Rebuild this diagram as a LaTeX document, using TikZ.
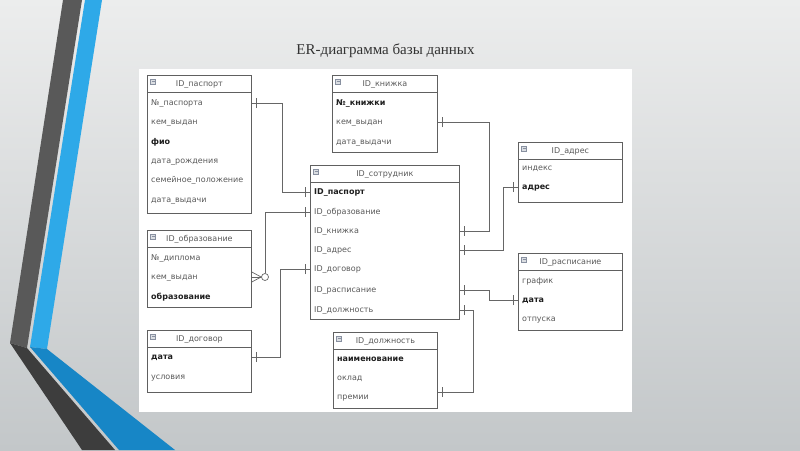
\documentclass[tikz,border=0pt]{standalone}
\usepackage{fontspec}
\setmainfont{Liberation Serif}
\newfontfamily\erfont{DejaVu Sans}
\usetikzlibrary{positioning, decorations.markings}

\definecolor{bgtop}{HTML}{ECEDED}
\definecolor{bgbot}{HTML}{C3C7C9}
\definecolor{stripegrey}{HTML}{595959}
\definecolor{stripedark}{HTML}{3D3D3D}
\definecolor{stripeblue}{HTML}{2EA9E8}
\definecolor{stripedeep}{HTML}{1786C6}
\definecolor{boxgrey}{HTML}{606060}
\definecolor{txtgrey}{HTML}{5A5A5A}
\definecolor{keyblack}{HTML}{1E1E1E}
\definecolor{linegrey}{HTML}{666666}
\definecolor{icongrey}{HTML}{8890A0}

\tikzset{
  ent/.style={rectangle, draw=boxgrey, line width=0.8pt, anchor=north west, inner sep=0pt},
  hdr/.style={font=\erfont\fontsize{8}{9.6}\selectfont, text=txtgrey, inner sep=0pt,
    text height=5.8pt, text depth=1.6pt},
  fld/.style={font=\erfont\fontsize{8}{9.6}\selectfont, text=txtgrey, anchor=west, inner sep=0pt,
    text height=5.8pt, text depth=1.6pt},
  keyfld/.style={fld, font=\erfont\fontsize{8}{9.6}\selectfont\bfseries, text=keyblack},
  icon/.style={rectangle, draw=icongrey, fill=icongrey!30, line width=0.4pt,
    minimum size=5pt, inner sep=0pt,
    path picture={\draw[icongrey, line width=0.5pt]
      ([xshift=1pt]path picture bounding box.west) -- ([xshift=-1pt]path picture bounding box.east);}},
  rel/.style={draw=linegrey, line width=0.7pt},
  onestart/.style={postaction={decorate, decoration={markings,
    mark=at position 4.5pt with {\draw[rel] (0pt,-5pt) -- (0pt,5pt);}}}},
  oneend/.style={postaction={decorate, decoration={markings,
    mark=at position -4.5pt with {\draw[rel] (0pt,-5pt) -- (0pt,5pt);}}}},
  zeroring/.style={circle, draw=linegrey, fill=white, line width=0.7pt, minimum size=7pt, inner sep=0pt}
}

\begin{document}
\begin{tikzpicture}[x=1pt, y=-1pt]
  \useasboundingbox (0,0) rectangle (800,450);

  % slide background and stripes
  \shade[top color=bgtop, bottom color=bgbot] (0,0) rectangle (800,450);
  \fill[stripegrey] (63,0) -- (82,0) -- (27,348) -- (10,343) -- cycle;
  \fill[stripeblue] (85,0) -- (102,0) -- (47,349) -- (30,347) -- cycle;
  \fill[stripedark] (10,343) -- (27,348) -- (115,450) -- (82,450) -- cycle;
  \fill[stripedeep] (30,347) -- (47,349) -- (175,450) -- (119,450) -- cycle;

  \node[font=\fontsize{15}{18}\selectfont, text=black!80, anchor=base] (title) at (385.5,54) {ER-диаграмма базы данных};

  \fill[white] (139,69) rectangle (632,412);

  % entities
  \node[ent, minimum width=104pt, minimum height=138pt] (pas) at (147,75) {};
  \node[ent, minimum width=104pt, minimum height=77pt] (obr) at (147,230) {};
  \node[ent, minimum width=104pt, minimum height=62pt] (dog) at (147,330) {};
  \node[ent, minimum width=105pt, minimum height=77pt] (kni) at (332,75) {};
  \node[ent, minimum width=149pt, minimum height=154pt] (sot) at (310,165) {};
  \node[ent, minimum width=104pt, minimum height=60pt] (adr) at (518,142) {};
  \node[ent, minimum width=104pt, minimum height=77pt] (ras) at (518,253) {};
  \node[ent, minimum width=104pt, minimum height=76pt] (dol) at (333,332) {};

  \foreach \e in {pas,obr,dog,kni,sot,adr,ras,dol}{
    \draw[boxgrey, line width=0.8pt] ([yshift=-17.5pt]\e.north west) -- ([yshift=-17.5pt]\e.north east);
    \node[icon] (\e-ico) at ([xshift=6pt, yshift=-6.5pt]\e.north west) {};
  }

  \node[hdr] (pas-t) at ([yshift=-9pt]pas.north) {ID\_паспорт};
  \node[hdr] (obr-t) at ([yshift=-9pt]obr.north) {ID\_образование};
  \node[hdr] (dog-t) at ([yshift=-9pt]dog.north) {ID\_договор};
  \node[hdr] (kni-t) at ([yshift=-9pt]kni.north) {ID\_книжка};
  \node[hdr] (sot-t) at ([yshift=-9pt]sot.north) {ID\_сотрудник};
  \node[hdr] (adr-t) at ([yshift=-9pt]adr.north) {ID\_адрес};
  \node[hdr] (ras-t) at ([yshift=-9pt]ras.north) {ID\_расписание};
  \node[hdr] (dol-t) at ([yshift=-9pt]dol.north) {ID\_должность};

  % fields
  \node[fld] (pas1) at (151,103) {№\_паспорта};
  \node[fld] (pas2) at (151,122) {кем\_выдан};
  \node[keyfld] (pas3) at (151,142) {фио};
  \node[fld] (pas4) at (151,161) {дата\_рождения};
  \node[fld] (pas5) at (151,180) {семейное\_положение};
  \node[fld] (pas6) at (151,200) {дата\_выдачи};

  \node[fld] (obr1) at (151,258) {№\_диплома};
  \node[fld] (obr2) at (151,277) {кем\_выдан};
  \node[keyfld] (obr3) at (151,297) {образование};

  \node[keyfld] (dog1) at (151,357) {дата};
  \node[fld] (dog2) at (151,377) {условия};

  \node[keyfld] (kni1) at (336,103) {№\_книжки};
  \node[fld] (kni2) at (336,122) {кем\_выдан};
  \node[fld] (kni3) at (336,142) {дата\_выдачи};

  \node[keyfld] (sot1) at (314,192) {ID\_паспорт};
  \node[fld] (sot2) at (314,212) {ID\_образование};
  \node[fld] (sot3) at (314,231) {ID\_книжка};
  \node[fld] (sot4) at (314,250) {ID\_адрес};
  \node[fld] (sot5) at (314,269) {ID\_договор};
  \node[fld] (sot6) at (314,290) {ID\_расписание};
  \node[fld] (sot7) at (314,310) {ID\_должность};

  \node[fld] (adr1) at (522,168) {индекс};
  \node[keyfld] (adr2) at (522,187) {адрес};

  \node[fld] (ras1) at (522,281) {график};
  \node[keyfld] (ras2) at (522,300) {дата};
  \node[fld] (ras3) at (522,319) {отпуска};

  \node[keyfld] (dol1) at (337,359) {наименование};
  \node[fld] (dol2) at (337,378) {оклад};
  \node[fld] (dol3) at (337,397) {премии};

  % relations
  \draw[rel, onestart, oneend] (pas.east |- pas1) -- ++(31,0) |- (sot.west |- sot1);
  \node[zeroring] (crc) at (265,277) {};
  \draw[rel, onestart] (sot.west |- sot2) -| (crc.north);
  \draw[rel] (crc.west) -- (obr.east |- obr2);
  \draw[rel] (crc.west) -- ([yshift=5pt]obr.east |- obr2);
  \draw[rel] (crc.west) -- ([yshift=-5pt]obr.east |- obr2);
  \draw[rel, onestart, oneend] (dog.east |- dog1) -- ++(29,0) |- (sot.west |- sot5);
  \draw[rel, onestart, oneend] (kni.east |- kni2) -- ++(52,0) |- (sot.east |- sot3);
  \draw[rel, onestart, oneend] (sot.east |- sot4) -- ++(44,0) |- (adr.west |- adr2);
  \draw[rel, onestart, oneend] (sot.east |- sot6) -- ++(30,0) |- (ras.west |- ras2);
  \draw[rel, onestart, oneend] (sot.east |- sot7) -- ++(14,0) |- ([yshift=5pt]dol.east |- dol3);
\end{tikzpicture}
\end{document}
